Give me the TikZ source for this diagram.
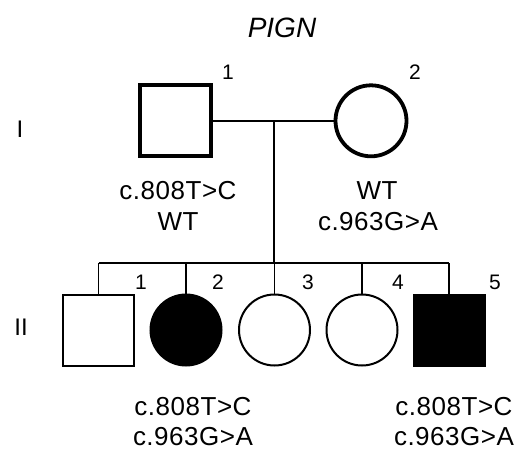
\documentclass[tikz,border=0pt]{standalone}
\usepackage{fontspec}
\setmainfont{Liberation Sans}
\begin{document}
\begin{tikzpicture}[x=1pt,y=-1pt,
  every node/.style={inner sep=0pt, outer sep=0pt},
  sqI/.style={draw, line width=3.8pt, rectangle, minimum size=71pt},
  ciI/.style={draw, line width=3.8pt, circle, minimum size=71pt},
  sqII/.style={draw, line width=2pt, rectangle, minimum size=71pt},
  ciII/.style={draw, line width=2pt, circle, minimum size=71pt},
  aff/.style={fill=black},
  conn/.style={line width=1.8pt},
  lbl/.style={font=\fontsize{26}{31}\selectfont\addfontfeature{LetterSpace=2}, anchor=base},
  num/.style={font=\fontsize{21}{25}\selectfont},
  gen/.style={font=\fontsize{24}{28}\selectfont, anchor=base}
]
\fill[white] (0,0) rectangle (520,451);
\useasboundingbox (0,0) rectangle (520,451);

\node[font=\fontsize{28}{32}\selectfont\itshape, anchor=base] (title) at (282,37) {PIGN};

\node[gen] (gI) at (20,137) {I};
\node[gen] (gII) at (21,335) {II};

% generation I
\node[sqI] (I1) at (175.8,120.8) {};
\node[ciI] (I2) at (371,120.8) {};
\node[num] (nI1) at (228,72) {1};
\node[num] (nI2) at (415,72) {2};

% generation II
\node[sqII] (II1) at (98.5,330) {};
\node[ciII,aff] (II2) at (186,330) {};
\node[ciII] (II3) at (274.5,330) {};
\node[ciII] (II4) at (362,330) {};
\node[sqII,aff] (II5) at (449,330) {};
\node[num] (nII1) at (141,282) {1};
\node[num] (nII2) at (218,282) {2};
\node[num] (nII3) at (308,282) {3};
\node[num] (nII4) at (398,282) {4};
\node[num] (nII5) at (495,282) {5};

% connectors
\coordinate (m) at (274,120.8);
\coordinate (s) at (274,263);
\draw[conn] (I1.east) -- (I2.west);
\draw[conn] (m) -- (s);
\draw[conn] (II1.north |- s) -- (II5.north |- s);
\foreach \c in {II1,II2,II3,II4,II5}
  \draw[conn] (\c.north |- s) -- (\c.north);

% genotype labels
\node[lbl] (gI1a) at (178,199) {c.808T>C};
\node[lbl] (gI1b) at (178,230) {WT};
\node[lbl] (gI2a) at (377,199) {WT};
\node[lbl] (gI2b) at (378,230) {c.963G>A};
\node[lbl] (gII2a) at (193,415) {c.808T>C};
\node[lbl] (gII2b) at (193,445) {c.963G>A};
\node[lbl] (gII5a) at (454,415) {c.808T>C};
\node[lbl] (gII5b) at (454,445) {c.963G>A};
\end{tikzpicture}
\end{document}
